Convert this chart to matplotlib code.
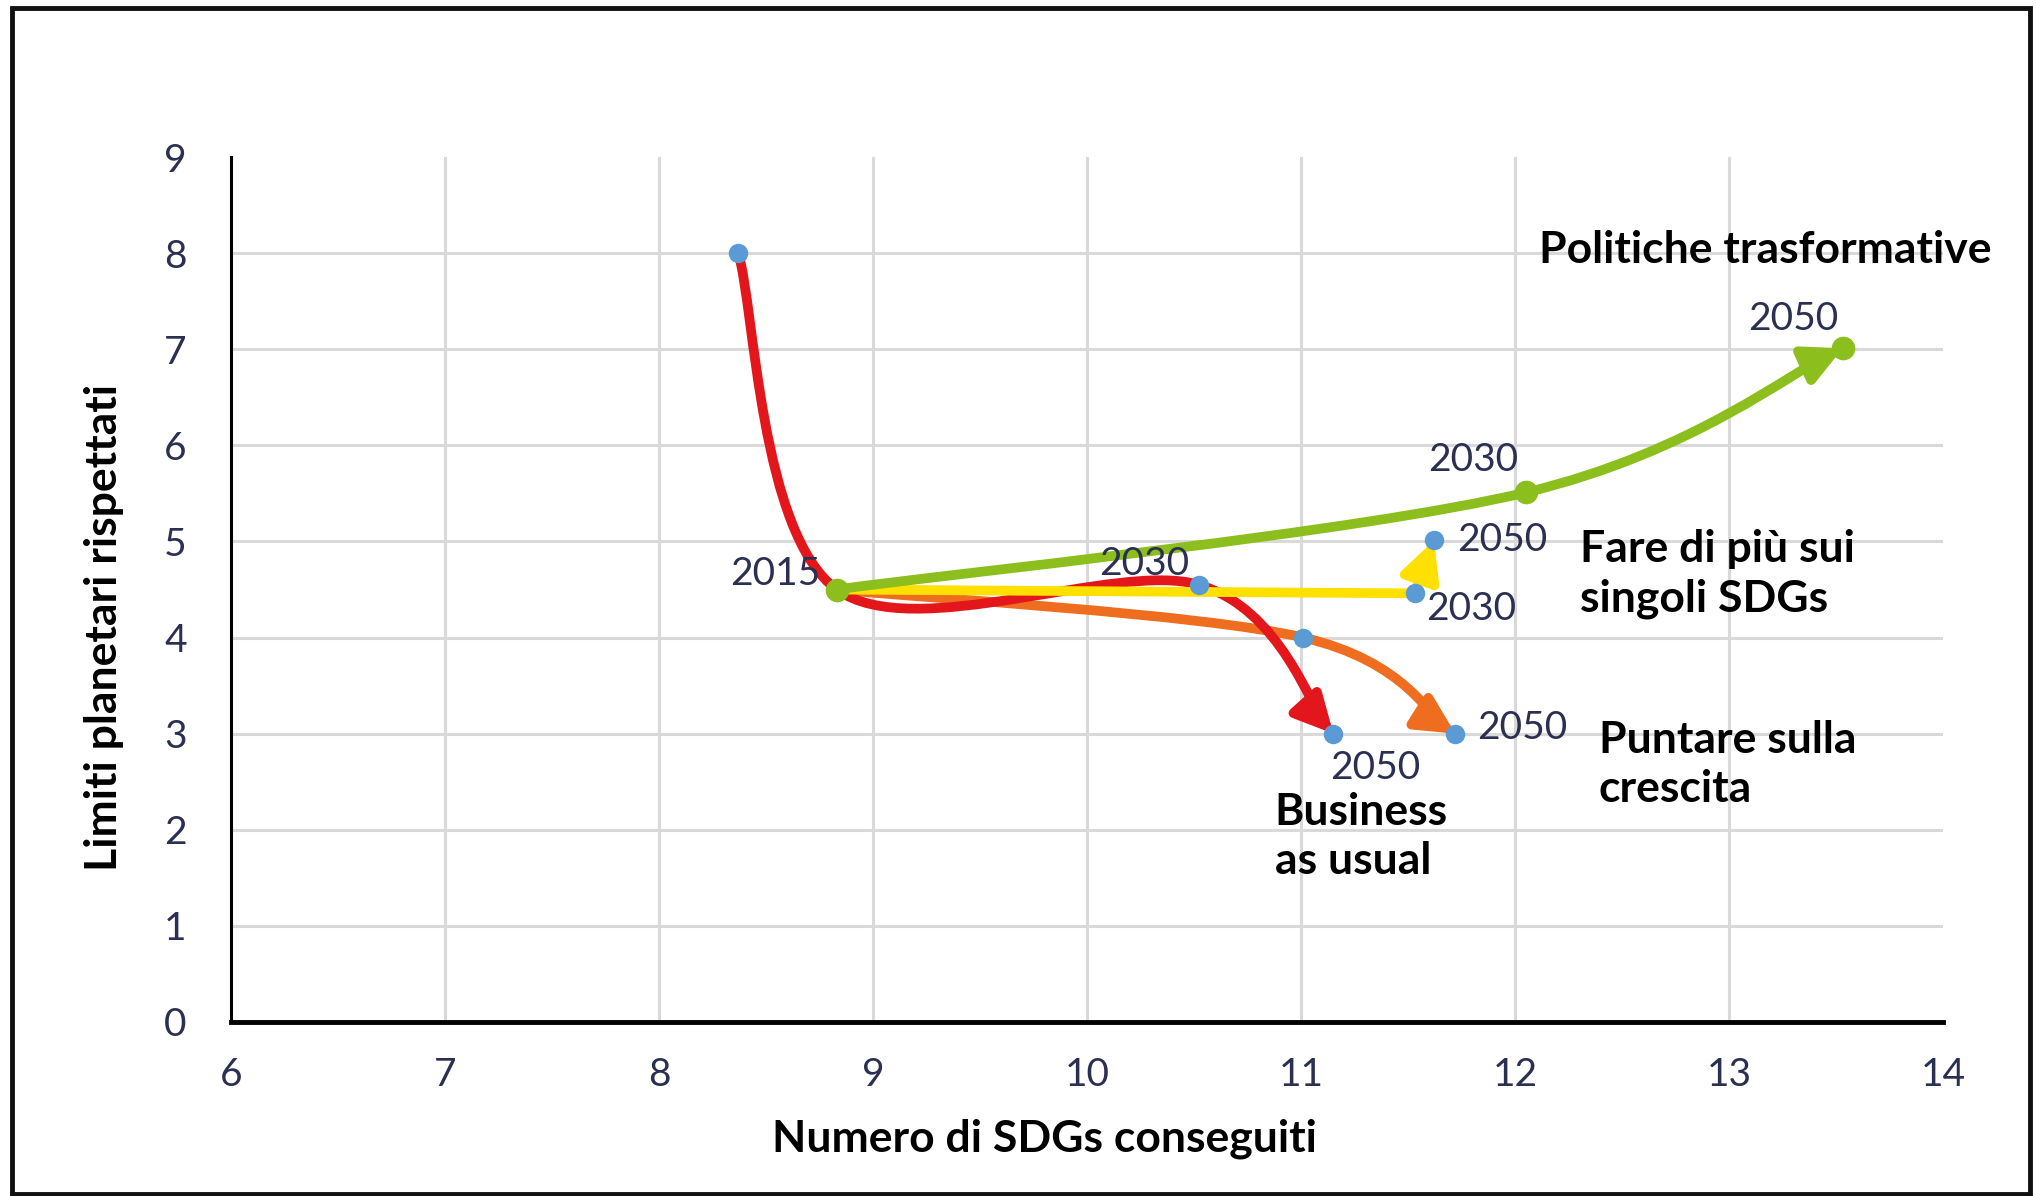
import matplotlib.pyplot as plt
import numpy as np
from matplotlib.path import Path
from matplotlib.patches import FancyArrowPatch, Rectangle

# scenario paths (x = SDGs achieved, y = planetary boundaries respected)
bau_x = [8.37, 8.83, 10.52, 11.15]
bau_y = [8.0, 4.5, 4.55, 3.0]
growth_x = [8.83, 11.01, 11.72]
growth_y = [4.5, 4.0, 3.0]
single_x = [8.83, 11.53, 11.62]
single_y = [4.5, 4.46, 5.01]
transf_x = [8.83, 12.05, 13.53]
transf_y = [4.5, 5.51, 7.01]

xticks = [6, 7, 8, 9, 10, 11, 12, 13, 14]
yticks = [0, 1, 2, 3, 4, 5, 6, 7, 8, 9]

RED = '#e3161c'
ORANGE = '#ee6d1f'
YELLOW = '#ffe000'
GREEN = '#8cbf1d'
BLUE = '#5b9bd5'
LBL = '#2b2f52'


def smooth_path(xs, ys):
    # Catmull-Rom -> cubic bezier (like a smoothed spreadsheet line)
    p = np.column_stack([xs, ys]).astype(float)
    ext = np.vstack([p[0], p, p[-1]])
    verts = [p[0]]
    codes = [Path.MOVETO]
    for i in range(len(p) - 1):
        p0, p1, p2, p3 = ext[i], ext[i + 1], ext[i + 2], ext[i + 3]
        c1 = p1 + (p2 - p0) / 6
        c2 = p2 - (p3 - p1) / 6
        verts += [c1, c2, p2]
        codes += [Path.CURVE4] * 3
    return Path(verts, codes)


def straight_path(xs, ys):
    verts = list(zip(xs, ys))
    return Path(verts, [Path.MOVETO] + [Path.LINETO] * (len(verts) - 1))


fig = plt.figure(figsize=(20.36, 11.96), dpi=100)
ax = fig.add_axes([0.1135, 0.1455, 0.841, 0.7232])

ax.set_xlim(6, 14)
ax.set_ylim(0, 9)
ax.set_xticks(xticks)
ax.set_yticks(yticks)
ax.grid(True, color='#d9d9d9', lw=2.2)
ax.set_axisbelow(True)
ax.yaxis.get_gridlines()[-1].set_visible(False)
ax.xaxis.get_gridlines()[-1].set_visible(False)
ax.xaxis.get_gridlines()[0].set_visible(False)
ax.yaxis.get_gridlines()[0].set_visible(False)
for s in ['top', 'right']:
    ax.spines[s].set_visible(False)
ax.spines['left'].set_linewidth(2.2)
ax.spines['bottom'].set_linewidth(3.5)
ax.tick_params(length=0, labelsize=28, labelcolor=LBL)
ax.tick_params(axis='y', pad=32)
ax.tick_params(axis='x', pad=25)
for t in ax.get_xticklabels() + ax.get_yticklabels():
    t.set_fontfamily('Lato')

ax.set_xlabel('Numero di SDGs conseguiti', fontsize=32, fontweight='bold',
              family='Lato', va='center')
ax.xaxis.set_label_coords(0.475, -0.135)
ax.set_ylabel('Limiti planetari rispettati', fontsize=32, fontweight='bold',
              family='Lato', va='center')
ax.yaxis.set_label_coords(-0.074, 0.456)

arrow = '-|>,head_length=0.75,head_width=0.38'
for path, col in [(smooth_path(growth_x, growth_y), ORANGE),
                  (smooth_path(bau_x, bau_y), RED),
                  (straight_path(single_x, single_y), YELLOW),
                  (smooth_path(transf_x, transf_y), GREEN)]:
    ax.add_patch(FancyArrowPatch(path=path, arrowstyle=arrow, mutation_scale=30,
                                 color=col, lw=7, zorder=3,
                                 joinstyle='round', capstyle='round'))

# markers
ax.plot([bau_x[0], bau_x[2], bau_x[3], growth_x[1], growth_x[2], single_x[1], single_x[2]],
        [bau_y[0], bau_y[2], bau_y[3], growth_y[1], growth_y[2], single_y[1], single_y[2]],
        'o', color=BLUE, ms=13, zorder=5, ls='none')
ax.plot(transf_x, transf_y, 'o', color=GREEN, ms=16, zorder=5, ls='none')

# year labels
labels = [
    ('2015', bau_x[1], bau_y[1], (-12, 11), 'right'),
    ('2030', bau_x[2], bau_y[2], (-39, 15), 'center'),
    ('2050', bau_x[3], bau_y[3], (30, -25), 'center'),
    ('2050', growth_x[2], growth_y[2], (48, 4), 'center'),
    ('2030', single_x[1], single_y[1], (41, -11), 'center'),
    ('2050', single_x[2], single_y[2], (49, 0), 'center'),
    ('2030', transf_x[1], transf_y[1], (-38, 23), 'center'),
    ('2050', transf_x[2], transf_y[2], (-36, 21), 'center'),
]
for txt, x, y, off, ha in labels:
    ax.annotate(txt, (x, y), xytext=off, textcoords='offset points',
                ha=ha, va='center', fontsize=28, color=LBL, family='Lato',
                zorder=6)

bold = dict(fontsize=32, fontweight='bold', family='Lato', color='black',
            va='center', ha='left', linespacing=1.27)
ax.text(12.11, 8.03, 'Politiche trasformative', **bold)
ax.text(12.30, 4.66, 'Fare di più sui\nsingoli SDGs', **bold)
ax.text(12.39, 2.68, 'Puntare sulla\ncrescita', **bold)
ax.text(10.876, 1.93, 'Business\nas usual', **bold)

fig.patches.append(Rectangle((0.006, 0.002), 0.991, 0.991, transform=fig.transFigure,
                             fill=False, ec='#111111', lw=3.5))

fig.savefig('out.png', dpi=100)
